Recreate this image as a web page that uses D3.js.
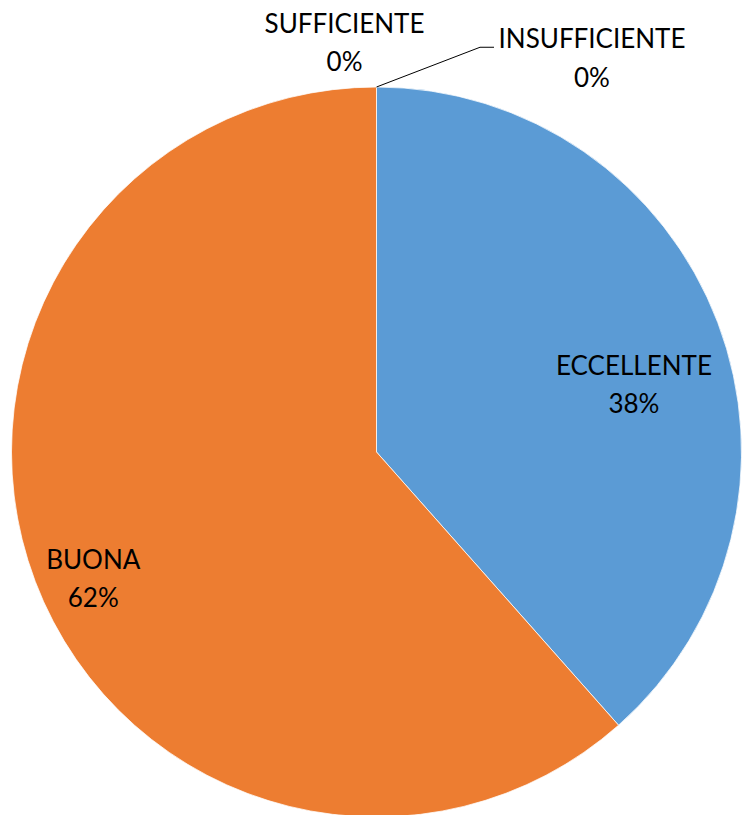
<!DOCTYPE html>
<html>
<head>
<meta charset="utf-8">
<script src="https://cdn.jsdelivr.net/npm/d3@7"></script>
<style>
html,body{margin:0;padding:0;background:#fff;}
svg{display:block;}
text{font-family:Lato, "Open Sans", sans-serif;fill:#000;}
</style>
</head>
<body>
<svg id="chart" width="743" height="815"></svg>
<script>
const categories = ["ECCELLENTE", "BUONA", "SUFFICIENTE", "INSUFFICIENTE"];
const values = [5, 8, 0, 0];
const colors = ["#5B9BD5", "#ED7D31", "#A5A5A5", "#FFC000"];

const W = 743, H = 815;
const cx = 376.5, cy = 452, R = 365;
const svg = d3.select("#chart");
const g = svg.append("g").attr("transform", `translate(${cx},${cy})`);

const data = categories.map((c, i) => ({ cat: c, value: values[i], color: colors[i] }));
const pie = d3.pie().value(d => d.value).sort(null);
const arcs = pie(data);
const arc = d3.arc().innerRadius(0).outerRadius(R);

g.selectAll("path.slice").data(arcs.filter(a => a.data.value > 0)).join("path")
  .attr("class", "slice")
  .attr("d", arc)
  .attr("fill", d => d.data.color)
  .attr("stroke", "#fff")
  .attr("stroke-width", 0.75);

const total = d3.sum(values);
const pct = v => Math.round(v / total * 100) + "%";

// label placement: radius fraction along the mid-angle, plus small offsets
const labelPlace = {
  "ECCELLENTE": { r: 0.75, dx: 1.5, dy: 39 },
  "BUONA": { r: 0.83, dx: 0, dy: 28.6 },
  "SUFFICIENTE": { r: 1.0, dx: -32, dy: -35 },
  "INSUFFICIENTE": { r: 1.0, dx: 215.5, dy: -19.5 }
};
const fs = 26, lh = 38.5;

arcs.forEach(a => {
  const p = labelPlace[a.data.cat];
  const mid = (a.startAngle + a.endAngle) / 2;
  const lx = Math.sin(mid) * R * p.r + p.dx;
  const ly = -Math.cos(mid) * R * p.r + p.dy;
  const t = g.append("text").attr("text-anchor", "middle").attr("font-size", fs);
  t.append("tspan").attr("x", lx).attr("y", ly - lh / 2).text(a.data.cat);
  t.append("tspan").attr("x", lx).attr("y", ly + lh / 2).text(pct(a.data.value));
  if (a.data.cat === "INSUFFICIENTE") {
    const sx = Math.sin(mid) * R, sy = -Math.cos(mid) * R;
    const ey = ly - lh / 2 - 1;
    g.append("polyline")
      .attr("points", `${sx},${sy} ${lx - 112},${ey} ${lx - 98},${ey}`)
      .attr("fill", "none").attr("stroke", "#000").attr("stroke-width", 1);
  }
});
</script>
</body>
</html>
